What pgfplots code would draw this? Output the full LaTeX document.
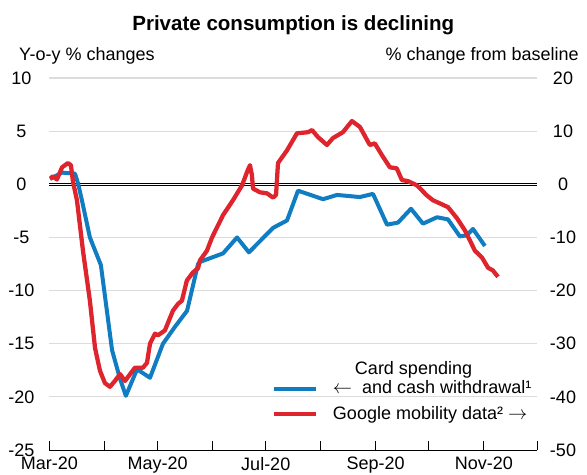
\documentclass[border=0pt]{standalone}
\usepackage{pgfplots}
\pgfplotsset{compat=1.18}
\usepackage{fontspec}
\setmainfont{Liberation Sans}
\definecolor{cardblue}{RGB}{16,124,194}
\definecolor{mobred}{RGB}{222,36,44}
\definecolor{gridgray}{RGB}{220,220,220}
\pgfplotsset{
  plainline/.style={legend image code/.code={\draw[##1] (0pt,0pt) -- (31.5pt,0pt);}},
  lowline/.style={legend image code/.code={\draw[##1] (0pt,-8pt) -- (31.5pt,-8pt);}},
}

\begin{document}
\fontsize{13.5}{16}\selectfont
\begin{tikzpicture}
\pgfplotsset{
  every axis/.append style={
    scale only axis, width=365.6pt, height=279pt,
    xmin=0, xmax=275,
    /pgf/number format/assume math mode=true,
    tick label style={font=\fontsize{13.5}{16}\selectfont},
  },
}
% left axis: card spending (y-o-y %)
\begin{axis}[
  name=ax,
  axis x line*=bottom, axis y line*=left,
  x axis line style={-, black, line width=0.75pt},
  y axis line style={draw=none},
  ymin=-25, ymax=10,
  ytick={-25,-20,...,10},
  xtick={0,31,61,92,122,153,184,214,245,275},
  xticklabels={Mar-20,,May-20,,Jul-20,,Sep-20,,Nov-20,},
  xtick align=inside,
  major tick length=6.75pt,
  x tick style={black, line width=0.75pt},
  y tick style={draw=none},
  ymajorgrids,
  major grid style={gridgray, line width=0.8pt},
  extra y ticks={0}, extra y tick labels={},
  extra y tick style={grid=major, major grid style={black, line width=0.6pt, double=white, double distance=1.1pt}},
  yticklabel style={anchor=center, xshift=-21pt},
  xticklabel style={yshift=-0.75pt},
]
\addplot[cardblue, line width=3pt, line join=round] coordinates {
(0.3,0.5) (7.1,1.1) (14.4,1.0) (16.1,0.1) (18.3,-1.5) (22.8,-5.0) (29.0,-7.6)
(35.3,-15.6) (39.8,-18.3) (43.1,-19.9) (49.4,-17.4) (56.7,-18.2) (64.0,-15.0)
(70.8,-13.4) (77.6,-11.9) (83.8,-7.5) (84.9,-7.3) (97.9,-6.5) (105.8,-5.0)
(112.5,-6.4) (126.1,-4.1) (134.0,-3.4) (140.2,-0.6) (154.3,-1.4) (162.2,-1.0)
(175.1,-1.2) (182.5,-0.9) (190.4,-3.8) (196.6,-3.6) (203.9,-2.3) (210.7,-3.7)
(218.6,-3.1) (224.8,-3.3) (231.5,-4.9) (235.4,-4.8) (238.9,-4.2) (245.6,-5.8)
};
\end{axis}
% right axis: Google mobility (% change from baseline)
\begin{axis}[
  hide x axis,
  axis y line*=right,
  y axis line style={draw=none},
  y tick style={draw=none},
  ymin=-50, ymax=20,
  ytick={-50,-40,...,20},
  yticklabel style={anchor=center, xshift=19.5pt},
  legend style={at={(rel axis cs:0.456,0.245)}, anchor=north west,
    draw=none, fill=none, inner sep=0pt, column sep=9pt, row sep=4pt,
    cells={anchor=west, align=left},
    font=\fontsize{13.5}{12}\selectfont},
  plainline,
]
\addlegendimage{cardblue, line width=3pt, lowline}
\addlegendentry{\hspace*{16.5pt}Card spending\\$\leftarrow$\ \ and cash withdrawal¹}
\addplot[mobred, line width=3.2pt, line join=round] coordinates {
(0.3,1.1) (2.0,1.5) (4.2,0.9) (7.1,3.2) (10.4,4.0) (12.1,3.6) (13.3,0.4)
(15.5,-3.0) (18.9,-12.5) (22.8,-21.9) (25.7,-30.8) (28.5,-35.1) (31.3,-37.4)
(34.1,-38.1) (36.9,-37.0) (39.8,-35.7) (42.6,-37.0) (48.2,-34.5) (52.7,-34.5)
(55.0,-33.6) (56.7,-30.0) (59.5,-28.1) (61.2,-28.4) (65.1,-27.5) (69.6,-23.8)
(72.5,-22.5) (74.7,-21.9) (77.5,-18.1) (80.9,-16.6) (83.8,-15.8) (84.9,-14.3)
(88.8,-12.5) (91.7,-10.0) (97.9,-5.8) (103.5,-3.0) (108.6,-0.2) (110.3,1.3)
(111.4,2.3) (113.1,3.6) (114.2,1.7) (114.8,-0.8) (118.7,-1.5) (122.7,-1.7)
(126.1,-2.5) (127.8,-2.0) (128.9,4.0) (134.0,6.4) (139.6,9.6) (145.8,9.8)
(148.1,10.2) (151.4,8.9) (156.5,7.4) (159.9,8.7) (165.5,9.8) (170.6,11.9)
(175.1,10.8) (180.7,7.4) (183.5,7.7) (187.5,5.5) (192.0,3.2) (195.9,3.0)
(198.8,0.8) (202.2,0.6) (207.3,-0.2) (212.9,-2.1) (216.3,-3.0) (220.3,-3.6)
(224.8,-4.3) (229.9,-6.4) (234.4,-8.7) (237.2,-10.6) (240.0,-12.5) (244.0,-13.8)
(247.4,-15.7) (250.1,-16.2) (253.0,-17.4)
};
\addlegendentry{Google mobility data² $\rightarrow$}
\end{axis}
\node[anchor=base, font=\bfseries\fontsize{15.4}{18}\selectfont]
  at ([yshift=35.5pt]ax.north) {Private consumption is declining};
\node[anchor=base west] at ([shift={(-27.4pt,13.5pt)}]ax.north west) {Y-o-y \% changes};
\node[anchor=base east] at ([shift={(36pt,13.5pt)}]ax.north east) {\% change from baseline};
\pgfresetboundingbox
\path ([shift={(-37.1pt,-18pt)}]ax.south west) rectangle ([shift={(37.5pt,58.5pt)}]ax.north east);
\end{tikzpicture}
\end{document}
